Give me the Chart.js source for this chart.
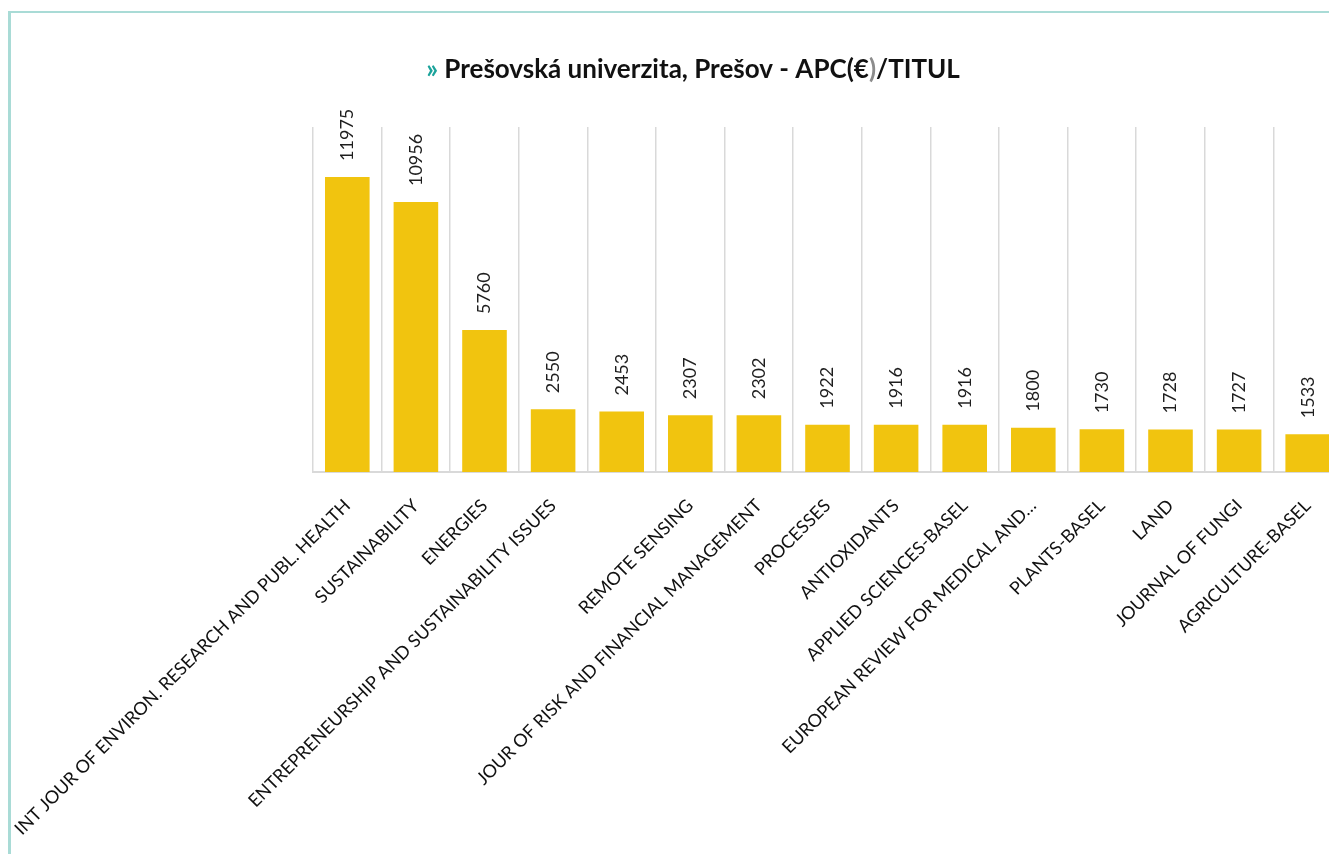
<!DOCTYPE html>
<html>
<head>
<meta charset="utf-8">
<script src="https://cdn.jsdelivr.net/npm/chart.js@4.4.0/dist/chart.umd.min.js"></script>
<style>
  body{margin:0;background:#fff;overflow:hidden;width:1329px;height:854px;position:relative}
  #frame{position:absolute;left:8px;top:11px;width:1400px;height:900px;border-left:3px solid #a9dbd6;border-top:2px solid #a9dbd6}
  #chart{position:absolute;left:0;top:0}
</style>
</head>
<body>
<div id="frame"></div>
<canvas id="chart" width="1345" height="854"></canvas>
<script>
  // journal titles (x axis) and APC sums in EUR
  const journals = [
    "INT JOUR OF ENVIRON. RESEARCH AND PUBL. HEALTH",
    "SUSTAINABILITY",
    "ENERGIES",
    "ENTREPRENEURSHIP AND SUSTAINABILITY ISSUES",
    "",
    "REMOTE SENSING",
    "JOUR OF RISK AND FINANCIAL MANAGEMENT",
    "PROCESSES",
    "ANTIOXIDANTS",
    "APPLIED SCIENCES-BASEL",
    "EUROPEAN REVIEW FOR MEDICAL AND…",
    "PLANTS-BASEL",
    "LAND",
    "JOURNAL OF FUNGI",
    "AGRICULTURE-BASEL"
  ]
  const apc = [11975, 10956, 5760, 2550, 2453, 2307, 2302, 1922, 1916, 1916, 1800, 1730, 1728, 1727, 1533]
  const yMax = 14000

  const titleParts = [
    {text: "» ", color: "#1ba39b"},
    {text: "Prešovská univerzita, Prešov - APC(€", color: "#111"},
    {text: ")", color: "#8c8c8c"},
    {text: "/TITUL", color: "#111"}
  ]

  const barColor = "#f1c40f"
  const gridColor = "#d9d9d9"

  const titlePlugin = {   // title with coloured pieces
    id: "titleParts",
    afterDraw(chart){
      const ctx = chart.ctx
      ctx.save()
      ctx.font = "bold 26px Lato"
      ctx.textBaseline = "middle"
      ctx.textAlign = "left"
      let total = 0
      titleParts.forEach((p)=>{ total += ctx.measureText(p.text).width })
      let x = 693 - total / 2
      titleParts.forEach((p)=>{
        ctx.fillStyle = p.color
        ctx.fillText(p.text, x, 70)
        x += ctx.measureText(p.text).width
      })
      ctx.restore()
    }
  }

  const valuePlugin = {   // vertical value labels above bars
    id: "valueLabels",
    afterDatasetsDraw(chart){
      const ctx = chart.ctx
      const meta = chart.getDatasetMeta(0)
      ctx.save()
      ctx.font = "18px Lato"
      ctx.fillStyle = "#1e1e1e"
      ctx.textAlign = "left"
      ctx.textBaseline = "middle"
      meta.data.forEach((bar, i)=>{
        ctx.save()
        ctx.translate(bar.x, bar.y - 16)
        ctx.rotate(-Math.PI / 2)
        ctx.fillText(String(apc[i]), 0, 0)
        ctx.restore()
      })
      ctx.restore()
    }
  }

  const config = {
    type: "bar",
    data: {
      labels: journals,
      datasets: [{
        data: apc,
        backgroundColor: barColor,
        borderWidth: 0,
        barPercentage: 0.65,
        categoryPercentage: 1
      }]
    },
    options: {
      responsive: false,
      animation: false,
      devicePixelRatio: 1,
      layout: {padding: {left: 313, right: 3, top: 127, bottom: 0}},
      plugins: {legend: {display: false}, tooltip: {enabled: false}, title: {display: false}},
      scales: {
        x: {
          grid: {offset: true, color: gridColor, lineWidth: 1.5, drawTicks: false},
          border: {color: gridColor, width: 2},
          ticks: {
            autoSkip: false, maxRotation: 45, minRotation: 45,
            padding: 23, color: "#111", font: {family: "Lato", size: 18}
          },
          afterFit(scale){   // fixed axis height, no extra side margin for the long labels
            scale.height = 382
            scale.paddingLeft = 0
            scale.paddingRight = 0
          }
        },
        y: {display: false, min: 0, max: yMax}
      }
    },
    plugins: [titlePlugin, valuePlugin]
  }

  const myChart = new Chart(document.getElementById("chart"), config)
</script>
</body>
</html>
